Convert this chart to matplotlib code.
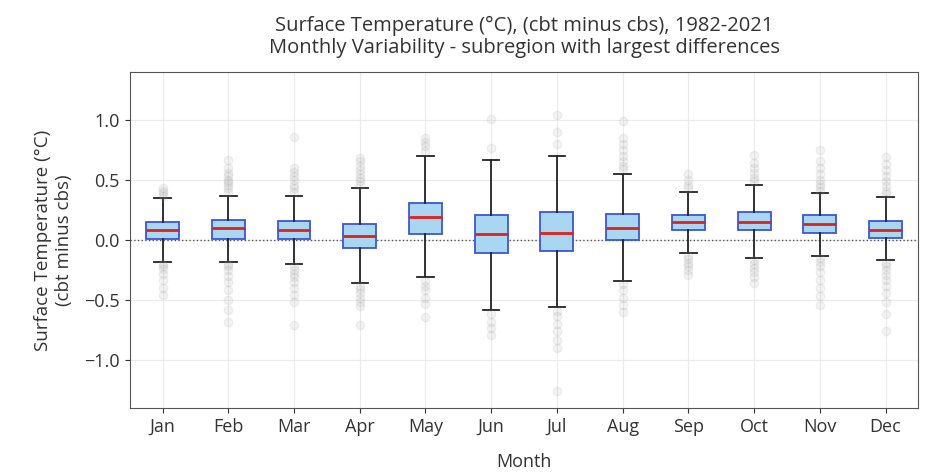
import matplotlib
matplotlib.use("Agg")
import matplotlib.pyplot as plt

plt.rcParams['font.family'] = ['Open Sans', 'DejaVu Sans']

months = ["Jan", "Feb", "Mar", "Apr", "May", "Jun", "Jul", "Aug", "Sep", "Oct", "Nov", "Dec"]
q1 = [0.01, 0.01, 0.01, -0.07, 0.05, -0.11, -0.09, 0.00, 0.08, 0.08, 0.06, 0.02]
med = [0.08, 0.10, 0.08, 0.03, 0.19, 0.05, 0.06, 0.10, 0.15, 0.15, 0.13, 0.08]
q3 = [0.15, 0.17, 0.16, 0.13, 0.31, 0.21, 0.23, 0.22, 0.21, 0.23, 0.21, 0.16]
whislo = [-0.18, -0.18, -0.20, -0.36, -0.31, -0.58, -0.56, -0.34, -0.11, -0.15, -0.13, -0.17]
whishi = [0.35, 0.37, 0.37, 0.43, 0.70, 0.67, 0.70, 0.55, 0.40, 0.46, 0.39, 0.36]
fliers = [
    [0.37, 0.39, 0.41, 0.43, -0.20, -0.22, -0.24, -0.28, -0.33, -0.40, -0.46],
    [0.40, 0.43, 0.46, 0.48, 0.50, 0.53, 0.56, 0.60, 0.67, -0.20, -0.22, -0.25, -0.30, -0.35, -0.42, -0.50, -0.58, -0.68],
    [0.40, 0.43, 0.46, 0.50, 0.53, 0.57, 0.60, 0.86, -0.22, -0.25, -0.28, -0.31, -0.35, -0.40, -0.46, -0.52, -0.71],
    [0.46, 0.49, 0.52, 0.55, 0.58, 0.62, 0.66, 0.68, -0.38, -0.41, -0.44, -0.48, -0.52, -0.55, -0.71],
    [0.74, 0.78, 0.82, 0.85, -0.34, -0.38, -0.42, -0.48, -0.53, -0.64],
    [0.77, 1.01, -0.62, -0.68, -0.73, -0.79],
    [0.80, 0.90, 1.04, -0.59, -0.63, -0.70, -0.76, -0.83, -0.90, -1.26],
    [0.59, 0.62, 0.66, 0.70, 0.75, 0.80, 0.85, 0.99, -0.37, -0.42, -0.48, -0.54, -0.60],
    [0.43, 0.46, 0.50, 0.55, -0.13, -0.16, -0.19, -0.22, -0.25, -0.29],
    [0.49, 0.52, 0.56, 0.60, 0.64, 0.71, -0.17, -0.20, -0.23, -0.27, -0.31, -0.36],
    [0.41, 0.44, 0.47, 0.50, 0.55, 0.60, 0.66, 0.75, -0.15, -0.18, -0.22, -0.27, -0.33, -0.40, -0.47, -0.54],
    [0.38, 0.41, 0.45, 0.49, 0.53, 0.58, 0.63, 0.69, -0.19, -0.22, -0.25, -0.29, -0.33, -0.38, -0.44, -0.52, -0.62, -0.76],
]

stats = []
for i, m in enumerate(months):
    stats.append(dict(label=m, q1=q1[i], med=med[i], q3=q3[i],
                      whislo=whislo[i], whishi=whishi[i], fliers=fliers[i]))

fig = plt.figure(figsize=(9.4, 4.74), dpi=100)
ax = fig.add_axes([0.138, 0.139, 0.839, 0.709])

ax.set_axisbelow(True)
ax.grid(True, color='#ebebeb', linewidth=0.8)
ax.axhline(0, color='#555555', linestyle=':', linewidth=1.0, zorder=1)

ax.bxp(stats, widths=0.5, patch_artist=True,
       boxprops=dict(facecolor='#a9d6f0', edgecolor='#3b55d9', linewidth=1.3),
       medianprops=dict(color='#e0201b', linewidth=2.0),
       whiskerprops=dict(color='#222222', linewidth=1.3),
       capprops=dict(color='#222222', linewidth=1.3),
       flierprops=dict(marker='o', markersize=6, markerfacecolor='#a0a0a0',
                       markeredgecolor='#909090', alpha=0.12, linestyle='none'))

ax.set_xlim(0.5, 12.5)
ax.set_ylim(-1.4, 1.4)
ax.set_yticks([-1.0, -0.5, 0.0, 0.5, 1.0])
ax.tick_params(labelsize=13, colors='#333333')
for s in ax.spines.values():
    s.set_color('#555555')

ax.set_xlabel("Month", fontsize=13, color='#333333', labelpad=12)
ax.set_ylabel("Surface Temperature (°C)\n(cbt minus cbs)", fontsize=13.5, color='#333333', labelpad=8)
ax.set_title("Surface Temperature (°C), (cbt minus cbs), 1982-2021\nMonthly Variability - subregion with largest differences",
             fontsize=14.5, color='#333333', pad=14, linespacing=1.1)

fig.savefig("out.png", dpi=100)
